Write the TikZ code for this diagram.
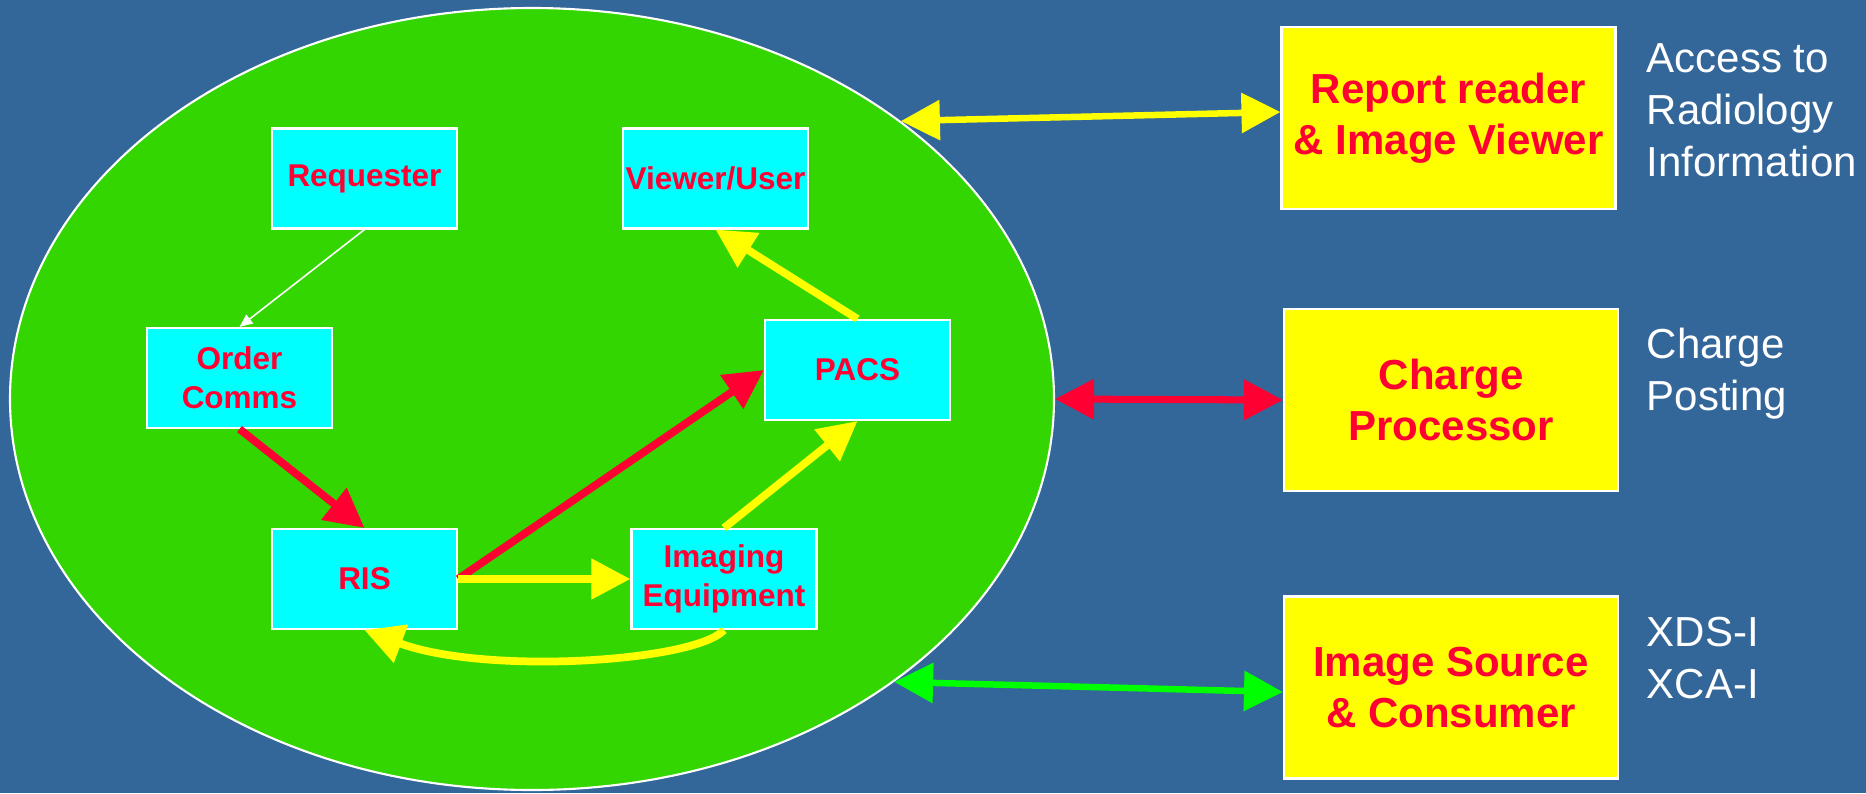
\documentclass[tikz,border=0pt]{standalone}
\usepackage{fontspec}
\setmainfont{Liberation Sans}
\usetikzlibrary{arrows.meta,shapes.geometric}

\definecolor{slide}{HTML}{336699}
\definecolor{zone}{HTML}{33D600}
\definecolor{txtred}{HTML}{FF0033}
\definecolor{boxcyan}{RGB}{0,255,255}
\definecolor{boxyellow}{RGB}{255,255,0}
\definecolor{linegreen}{RGB}{0,255,0}

\begin{document}
\begin{tikzpicture}[>={Triangle[length=0.39cm,width=0.39cm]},
  sys/.style={draw=white,line width=0.6pt,fill=boxcyan,minimum width=1.85cm,minimum height=1cm,
    inner sep=0pt,align=center,text=txtred,font=\fontsize{8.96}{11.1}\selectfont\bfseries},
  actor/.style={draw=white,line width=0.6pt,fill=boxyellow,minimum width=3.34cm,minimum height=1.82cm,
    inner sep=0pt,align=center,text=txtred,font=\fontsize{11.95}{14.5}\selectfont\bfseries},
  note/.style={anchor=west,align=left,text=white,inner sep=0pt,font=\fontsize{11.95}{14.8}\selectfont},
  flow/.style={->,line width=2.2pt},
  link/.style={<->,line width=1.85pt}]
  % background
  \fill[slide] (0,0) rectangle (18.66,7.93);
  % radiology department
  \node[ellipse,draw=white,line width=0.6pt,fill=zone,minimum width=10.44cm,minimum height=7.82cm,inner sep=0pt] (dept) at (5.32,3.94) {};
  \node[sys] (req) at (3.645,6.145) {Requester};
  \node[sys] (viewer) at (7.155,6.145) {Viewer/User};
  \node[sys] (order) at (2.395,4.15) {Order\\Comms};
  \node[sys] (pacs) at (8.575,4.23) {PACS};
  \node[sys] (ris) at (3.645,2.14) {RIS};
  \node[sys] (img) at (7.24,2.14) {Imaging\\Equipment};
  % workflow inside
  \draw[->,white,line width=0.45pt,>={Triangle[length=0.13cm,width=0.11cm]}] (req.south) -- (order.north);
  \draw[flow,txtred] (order.south) -- (ris.north);
  \draw[flow,txtred] (ris.east) -- (pacs.west);
  \draw[flow,boxyellow] (ris.east) -- (img.west);
  \draw[flow,boxyellow] (img.north) -- (pacs.south);
  \draw[flow,boxyellow] (pacs.north) -- (viewer.south);
  \draw[flow,boxyellow] (img.south) .. controls +(-0.3,-0.32) and +(1.2,-0.45) .. (ris.south);
  % outside actors
  \node[actor] (report) at (14.485,6.75) {Report reader\\\& Image Viewer};
  \node[actor] (charge) at (14.51,3.93) {Charge\\Processor};
  \node[actor] (source) at (14.51,1.055) {Image Source\\\& Consumer};
  \node[note] (access) at (16.46,6.83) {Access to\\Radiology\\Information};
  \node[note] (posting) at (16.46,4.19) {Charge\\Posting};
  \node[note] (xds) at (16.46,1.345) {XDS-I\\XCA-I};
  % transactions
  \draw[link,boxyellow] (dept.37) -- ([yshift=0.06cm]report.west);
  \draw[link,txtred,line width=2pt] (dept.east) -- (charge.west);
  \draw[link,linegreen] (dept.-38.5) -- ([yshift=-0.045cm]source.west);
\end{tikzpicture}
\end{document}
